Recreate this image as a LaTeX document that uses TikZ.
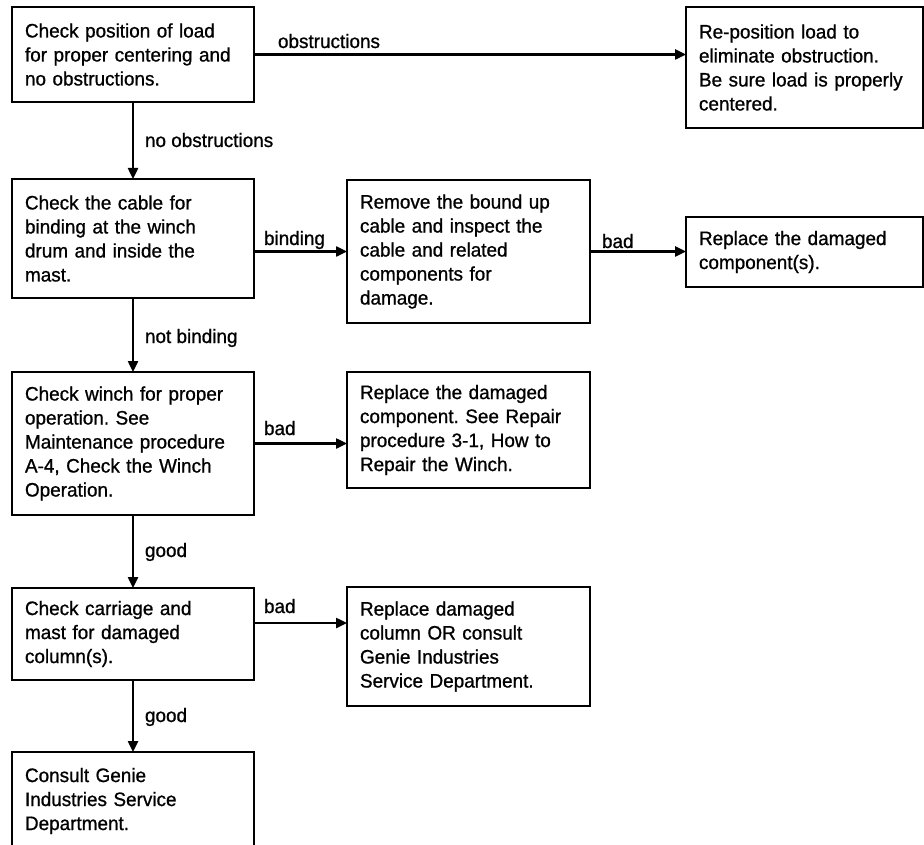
\documentclass[tikz,border=0pt]{standalone}
\usepackage{fontspec}
\setmainfont[FakeStretch=0.97,FakeBold=0.9]{Liberation Sans}
\usetikzlibrary{arrows.meta}
\frenchspacing

\begin{document}
\begin{tikzpicture}[y=1pt,x=1pt,yscale=-1, inner sep=0pt, outer sep=0pt,
  stepbox/.style={draw=black, line width=2.8pt, anchor=north west, inner xsep=13pt,
    align=left, font=\fontsize{19.5}{24}\selectfont},
  flow/.style={draw=black, line width=2.4pt, -{Triangle[length=11pt,width=10pt]}},
  lbl/.style={anchor=base west, font=\fontsize{19.5}{24}\selectfont}]
\useasboundingbox (0,0) rectangle (924,845);

  \node[stepbox, minimum height=95pt, text width=216pt] (chkload) at (12,7)
    {Check position of load\\for proper centering and\\no obstructions.};
  \node[stepbox, minimum height=121pt, text width=211pt] (repos) at (686,7)
    {Re-position load to\\eliminate obstruction.\\Be sure load is properly\\centered.};
  \node[stepbox, minimum height=119pt, text width=216pt] (chkcable) at (12,179)
    {Check the cable for\\binding at the winch\\drum and inside the\\mast.};
  \node[stepbox, minimum height=143pt, text width=217pt] (remove) at (347,180)
    {Remove the bound up\\cable and inspect the\\cable and related\\components for\\damage.};
  \node[stepbox, minimum height=70pt, text width=211pt] (repdmg) at (686,217)
    {Replace the damaged\\component(s).};
  \node[stepbox, minimum height=143pt, text width=216pt] (chkwinch) at (12,372)
    {Check winch for proper\\operation. See\\Maintenance procedure\\A-4, Check the Winch\\Operation.};
  \node[stepbox, minimum height=116pt, text width=217pt] (repwinch) at (347,372)
    {Replace the damaged\\component. See Repair\\procedure 3-1, How to\\Repair the Winch.};
  \node[stepbox, minimum height=92pt, text width=216pt] (chkmast) at (12,588)
    {Check carriage and\\mast for damaged\\column(s).};
  \node[stepbox, minimum height=119pt, text width=217pt] (repcol) at (347,587)
    {Replace damaged\\column OR consult\\Genie Industries\\Service Department.};
  \node[stepbox, minimum height=98pt, text width=216pt] (consult) at (12,752)
    {Consult Genie\\Industries Service\\Department.};

  \path (278,48) node[lbl] (lobst) {obstructions};
  \path (145,147) node[lbl] (lnoobst) {no obstructions};
  \path (264,245) node[lbl] (lbind) {binding};
  \path (602,248) node[lbl] (lbadcable) {bad};
  \path (145,343) node[lbl] (lnotbind) {not binding};
  \path (264,435) node[lbl] (lbadwinch) {bad};
  \path (145,557) node[lbl] (lgoodwinch) {good};
  \path (264,613) node[lbl] (lbadmast) {bad};
  \path (145,722) node[lbl] (lgoodmast) {good};

  \draw[flow] (chkload.east) -- (chkload.east -| repos.west);
  \draw[flow] (chkload.south) -- (chkcable.north);
  \draw[flow] (chkcable.east |- remove.west) -- (remove.west);
  \draw[flow] (remove.east) -- (remove.east -| repdmg.west);
  \draw[flow] (chkcable.south) -- (chkwinch.north);
  \draw[flow] (chkwinch.east) -- (chkwinch.east -| repwinch.west);
  \draw[flow] (chkwinch.south) -- (chkmast.north);
  \draw[flow] ([yshift=-11pt]chkmast.east) -- ([yshift=-11pt]chkmast.east -| repcol.west);
  \draw[flow] (chkmast.south) -- (consult.north);
\end{tikzpicture}
\end{document}
